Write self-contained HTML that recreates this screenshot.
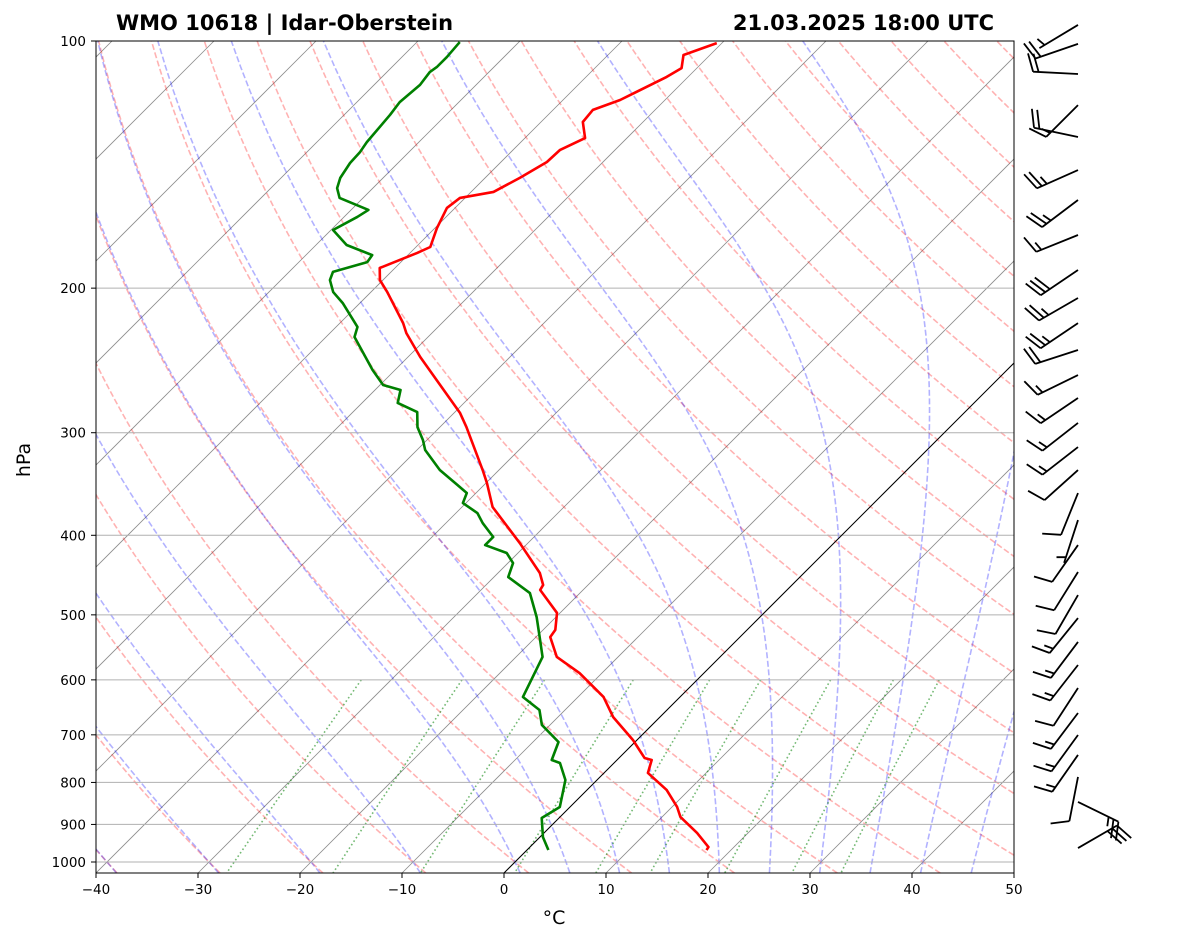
<!DOCTYPE html>
<html><head><meta charset="utf-8"><style>
html,body{margin:0;padding:0;background:#fff;}
svg{display:block;font-family:"DejaVu Sans","Liberation Sans",sans-serif;}
</style></head>
<body>
<svg id="chart" width="1181" height="941" viewBox="0 0 1181 941" xmlns="http://www.w3.org/2000/svg">
<defs><clipPath id="plotclip"><rect x="96" y="41" width="918" height="832"/></clipPath></defs>
<rect width="1181" height="941" fill="#fff"/>
<text x="116" y="30" font-size="21" font-weight="bold">WMO 10618 | Idar-Oberstein</text>
<text x="994" y="30" font-size="21" font-weight="bold" text-anchor="end">21.03.2025 18:00 UTC</text>
<g id="bg" clip-path="url(#plotclip)"></g>
<g id="prof" clip-path="url(#plotclip)"></g>
<rect x="96" y="41" width="918" height="832" fill="none" stroke="#000" stroke-width="1"/>
<g id="axes"></g>
<g id="barbs"></g>
<text x="554" y="924" font-size="19" text-anchor="middle">°C</text>
<text transform="translate(30,460) rotate(-90)" font-size="19" text-anchor="middle">hPa</text>
</svg>
<script>
const presT=[100.6,104.0,107.9,110.6,118.0,121.3,125.5,131.3,135.8,140.4,146.8,152.7,155.3,159.7,169.0,178.2,181.2,189.0,195.5,202.2,220.6,226.9,242.6,283.9,295.3,333.1,345.5,369.5,408.8,444.6,459.8,466.3,497.3,521.6,532.1,562.7,588.6,629.5,665.8,710.2,746.9,751.2,779.0,817.0,857.0,881.3,921.7,958.9,967.0];
const tempC=[-60.5,-62.6,-61.5,-62.1,-64.4,-66.1,-65.9,-64.1,-65.4,-65.5,-66.6,-67.8,-70.5,-70.8,-69.8,-68.6,-69.3,-71.5,-70.3,-68.4,-63.8,-62.5,-58.8,-49.4,-47.4,-41.6,-39.9,-37.0,-30.8,-25.9,-24.4,-24.2,-20.3,-18.8,-18.6,-16.0,-12.2,-7.5,-4.6,-0.4,2.5,3.4,4.3,7.8,10.5,11.8,15.0,17.5,17.6];
const presD=[100.3,104.6,107.6,109.1,113.1,118.7,123.0,132.8,136.5,140.8,146.8,151.1,155.3,160.6,163.8,169.9,177.2,182.3,185.9,191.1,195.5,202.2,208.5,223.0,229.4,251.6,262.4,266.1,276.0,283.1,295.3,306.2,314.9,333.1,347.4,355.3,365.4,375.8,386.5,401.9,411.1,420.4,432.4,449.7,470.4,503.0,536.6,562.7,629.5,653.0,680.9,714.2,751.2,757.5,794.5,857.0,883.8,932.6,967.0];
const dewC=[-85.8,-85.6,-85.6,-85.8,-85.5,-85.8,-85.5,-85.1,-84.8,-84.7,-84.2,-83.5,-82.3,-78.3,-78.7,-79.8,-77.0,-73.5,-73.3,-75.7,-75.2,-73.7,-71.7,-67.9,-67.2,-62.2,-59.7,-57.5,-56.5,-53.7,-52.2,-50.4,-49.2,-45.8,-42.6,-40.9,-40.3,-37.9,-36.4,-34.0,-34.0,-31.1,-29.5,-28.6,-24.9,-21.9,-19.3,-17.4,-15.4,-12.5,-10.8,-7.5,-6.4,-5.3,-3.1,-1.0,-1.7,0.3,2.1];
const barbP=[95.6,100.8,109.7,119.7,130.9,143.6,156.2,172.3,190.1,205.6,220.6,237.9,255.2,272.2,291.9,312.3,333.1,355.3,383.3,411.1,443.4,473.0,504.5,539.5,575.5,613.8,658.4,700.3,740.6,787.7,845.1,961.6];
const barbDir=[239,251,273,225,282,246,233,248,236,240,236,252,244,236,232,232,228,202,198,215,212,210,219,217,218,213,217,216,215,191,116,60];
const barbSpd=[5,20,20,15,20,25,25,15,30,25,25,20,15,15,15,15,10,10,5,10,10,10,15,15,15,10,15,15,15,10,25,30];
const pTicks=[100,200,300,400,500,600,700,800,900,1000];
const tTicks=[-40,-30,-20,-10,0,10,20,30,40,50];
const dryTheta=[-50,-40,-30,-20,-10,0,10,20,30,40,50,60,70,80,90,100,110,120,130,140,150,160,170,180,190,200];
const moistT0=[-50,-40,-30,-20,-10,0,5,10,15,20,25,30,35,40,45,50];
const mixW=[0.0004,0.001,0.002,0.004,0.007,0.01,0.016,0.024,0.032];

const NS='http://www.w3.org/2000/svg';
const pBot=100*Math.pow(10,832/821);
function yP(p){return 41+821*Math.log10(p/100);}
function xT(T,p){return 504+10.2*T+(873-yP(p));}
function mk(tag,attrs,parent){const e=document.createElementNS(NS,tag);for(const k in attrs)e.setAttribute(k,attrs[k]);parent.appendChild(e);return e;}
function pathD(pts){return pts.map((q,i)=>(i?'L':'M')+q[0].toFixed(2)+' '+q[1].toFixed(2)).join(' ');}
const bg=document.getElementById('bg'),prof=document.getElementById('prof'),axes=document.getElementById('axes'),barbs=document.getElementById('barbs');

for(let T=-130;T<=50;T+=10){
  const l=mk('line',{x1:xT(T,pBot),y1:873,x2:xT(T,100),y2:41,stroke:'#8c8c8c','stroke-width':0.8},bg);
  
  
}
const plist=[];for(let i=0;i<=60;i++){plist.push(pBot*Math.pow(100/pBot,i/60));}
dryTheta.forEach(th=>{
  const pts=plist.map(p=>[xT((th+273.15)*Math.pow(p/1000,0.2857)-273.15,p),yP(p)]);
  const e=mk('path',{d:pathD(pts),fill:'none',stroke:'#ff0000','stroke-opacity':0.3,'stroke-width':1.6,'stroke-dasharray':'6 2.6'},bg);
  
  
});
function es(Tc){return 6.112*Math.exp(17.67*Tc/(Tc+243.5));}
function dTdp(T,p){const eps=0.622,Rd=287.04,Cp=1005.7,Lv=2.501e6;const e=es(T-273.15);const rs=eps*e/(p-e);
  return (Rd*T+Lv*rs)/(Cp+(Lv*Lv*rs*eps)/(Rd*T*T))/p;}
function integ(T0,p0,p1,n){let T=T0,p=p0;const h=(p1-p0)/n;const out=[[T,p]];
  for(let i=0;i<n;i++){const k1=dTdp(T,p),k2=dTdp(T+h*k1/2,p+h/2),k3=dTdp(T+h*k2/2,p+h/2),k4=dTdp(T+h*k3,p+h);
    T+=h*(k1+2*k2+2*k3+k4)/6;p+=h;out.push([T,p]);}return out;}
moistT0.forEach(t0=>{
  const up=integ(t0+273.15,1000,100,120),dn=integ(t0+273.15,1000,pBot,5);
  const all=dn.reverse().concat(up.slice(1));
  const pts=all.map(a=>[xT(a[0]-273.15,a[1]),yP(a[1])]);
  const e=mk('path',{d:pathD(pts),fill:'none',stroke:'#0000ff','stroke-opacity':0.3,'stroke-width':1.6,'stroke-dasharray':'6 2.6'},bg);
  
  
});
mixW.forEach(w=>{
  const pts=[];for(let i=0;i<=20;i++){const p=600+(pBot-600)*i/20;const e=w*p/(0.622+w);const L=Math.log(e/6.112);const Td=243.5*L/(17.67-L);pts.push([xT(Td,p),yP(p)]);}
  const e=mk('path',{d:pathD(pts),fill:'none',stroke:'#008000','stroke-opacity':0.55,'stroke-width':1.6,'stroke-dasharray':'1.6 2.6'},bg);
  
  
});
pTicks.forEach(p=>{
  const y=yP(p);
  const g=mk('line',{x1:96,y1:y,x2:1014,y2:y,stroke:'#b0b0b0','stroke-width':1},bg);
  
  
  const t=mk('line',{x1:91,y1:y,x2:96,y2:y,stroke:'#000','stroke-width':1},axes);
  
  
  const lb=mk('text',{x:86,y:y+5,'font-size':13.5,'text-anchor':'end'},axes);lb.textContent=p;
  
  
});
tTicks.forEach(T=>{
  const x=504+10.2*T;
  const t=mk('line',{x1:x,y1:873,x2:x,y2:878,stroke:'#000','stroke-width':1},axes);
  
  
  const lb=mk('text',{x:x,y:894,'font-size':13.5,'text-anchor':'middle'},axes);lb.textContent=(T<0?'\u2212'+(-T):T);
  
  
});
const z=mk('line',{x1:xT(0,pBot),y1:873,x2:xT(0,100),y2:41,stroke:'#000','stroke-width':1},bg);


const tl=mk('path',{d:pathD(presT.map((p,i)=>[xT(tempC[i],p),yP(p)])),fill:'none',stroke:'#ff0000','stroke-width':2.6,'stroke-linejoin':'round'},prof);


const dl=mk('path',{d:pathD(presD.map((p,i)=>[xT(dewC[i],p),yP(p)])),fill:'none',stroke:'#008000','stroke-width':2.6,'stroke-linejoin':'round'},prof);


barbP.forEach((p,i)=>{
  const ox=1078,oy=yP(p),L=45;const d=barbDir[i]*Math.PI/180;
  const sx=Math.sin(d),sy=-Math.cos(d);const px=-sy,py=sx;
  let s='M'+ox+' '+oy+' L'+(ox+L*sx).toFixed(1)+' '+(oy+L*sy).toFixed(1);
  let spd=barbSpd[i];let full=Math.floor(spd/10),half=(spd%10)>=5?1:0;let pos=L;
  if(full===0&&half)pos=L-6;
  for(let k=0;k<full;k++){const bx=ox+pos*sx,by=oy+pos*sy;s+=' M'+bx.toFixed(1)+' '+by.toFixed(1)+' L'+(bx+18*px+6*sx).toFixed(1)+' '+(by+18*py+6*sy).toFixed(1);pos-=5.5;}
  if(half){const bx=ox+pos*sx,by=oy+pos*sy;s+=' M'+bx.toFixed(1)+' '+by.toFixed(1)+' L'+(bx+9*px+3*sx).toFixed(1)+' '+(by+9*py+3*sy).toFixed(1);}
  const b=mk('path',{d:s,fill:'none',stroke:'#000','stroke-width':1.8},barbs);
  
  
});
</script>
</body></html>
